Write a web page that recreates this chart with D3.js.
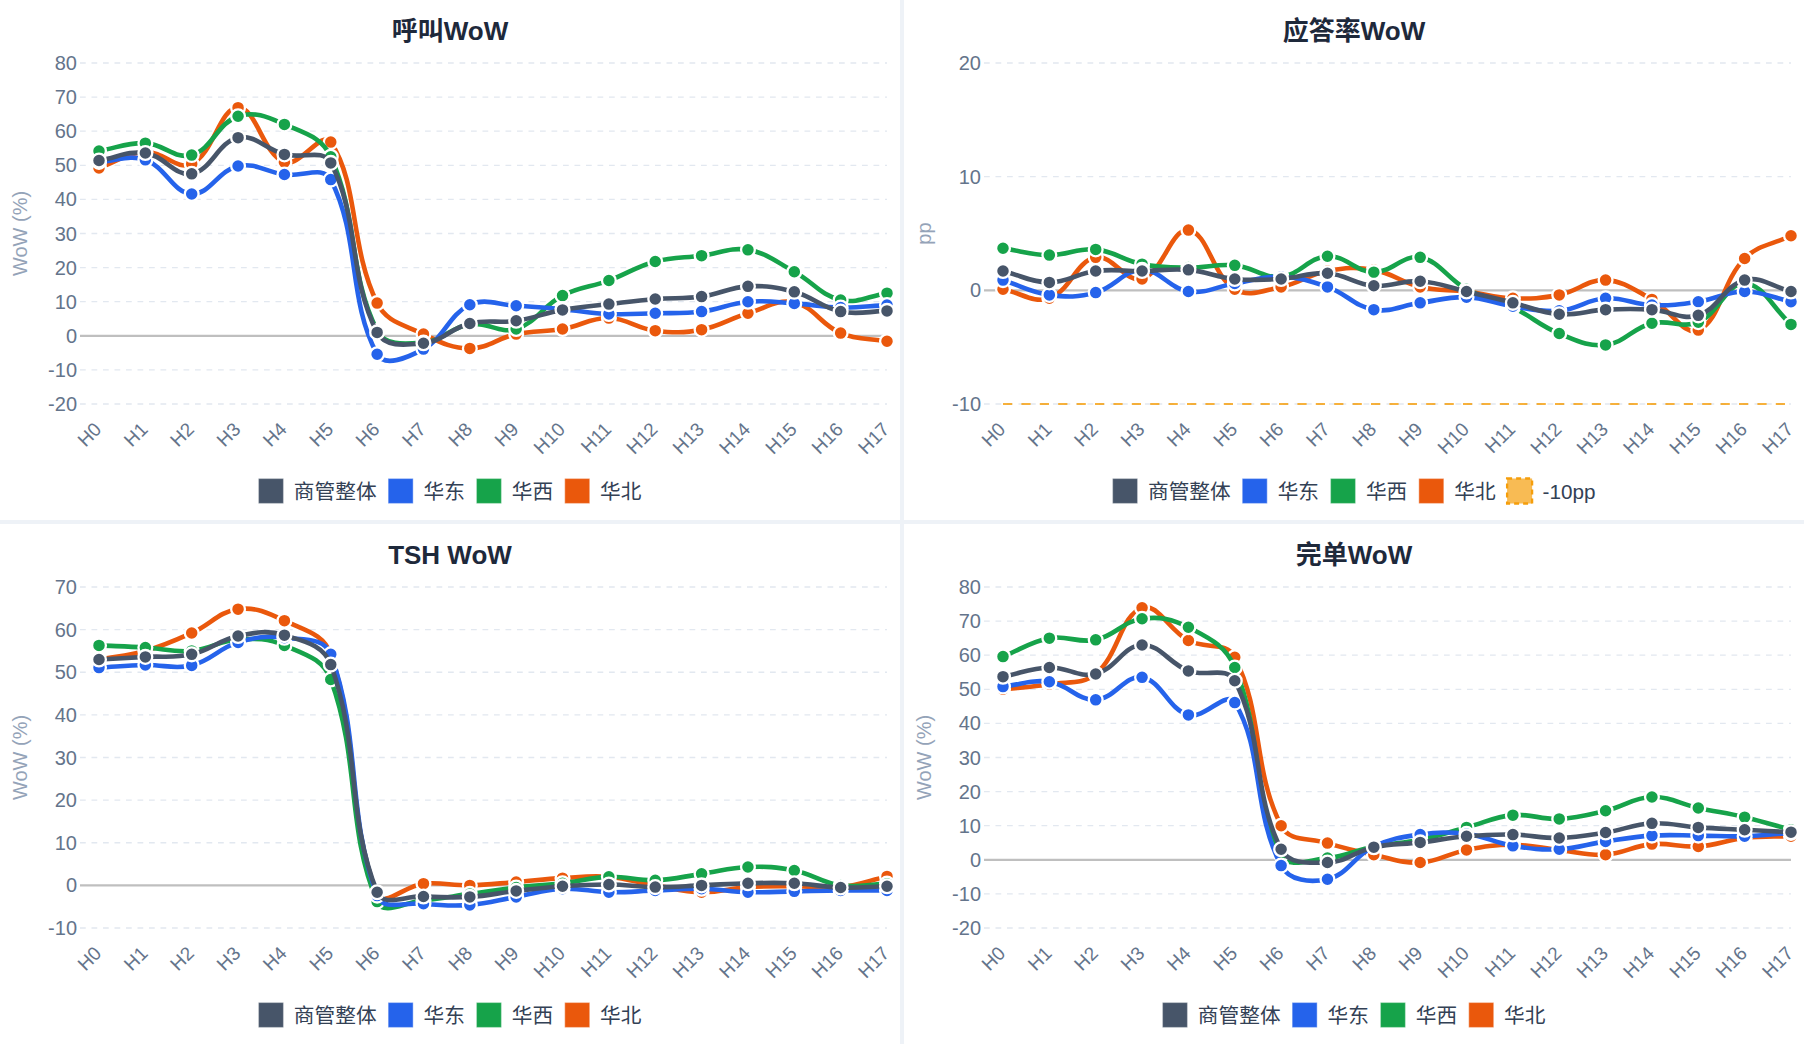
<!DOCTYPE html>
<html>
<head>
<meta charset="utf-8">
<script src="https://cdn.jsdelivr.net/npm/d3@7"></script>
<style>
  html, body { margin: 0; padding: 0; background: #eef2f7; }
  svg { display: block; font-family: "Liberation Sans", "Noto Sans CJK SC", sans-serif; }
</style>
</head>
<body>
<svg id="chart" width="1804" height="1044"></svg>
<script>
const hours = ["H0", "H1", "H2", "H3", "H4", "H5", "H6", "H7", "H8", "H9",
  "H10", "H11", "H12", "H13", "H14", "H15", "H16", "H17"];
const regions = ["商管整体", "华东", "华西", "华北"];
const regionColors = ["#475569", "#2563eb", "#16a34a", "#ea580c"];

// 呼叫WoW (%)
const callOverall = [51.4, 53.6, 47.5, 58.1, 53.2, 50.7, 1.0, -2.2, 3.6, 4.4, 7.6, 9.3, 10.8, 11.5, 14.5, 12.9, 7.1, 7.3];
const callEast = [51.0, 51.6, 41.6, 49.8, 47.3, 45.8, -5.4, -3.9, 9.1, 8.8, 7.8, 6.4, 6.6, 7.1, 10.0, 9.5, 8.3, 9.0];
const callWest = [54.2, 56.5, 53.0, 64.4, 62.0, 52.5, 1.5, -2.0, 3.4, 2.0, 11.8, 16.2, 21.8, 23.5, 25.2, 18.8, 10.5, 12.5];
const callNorth = [49.2, 53.9, 50.4, 66.9, 50.9, 56.8, 9.6, 0.5, -3.7, 0.5, 2.0, 5.2, 1.5, 1.8, 6.6, 9.8, 0.8, -1.6];
const callTicks = [-20, -10, 0, 10, 20, 30, 40, 50, 60, 70, 80];

// 应答率WoW (pp)
const ansOverall = [1.7, 0.7, 1.7, 1.7, 1.8, 1.0, 1.0, 1.5, 0.4, 0.8, -0.1, -1.1, -2.1, -1.7, -1.7, -2.2, 0.9, -0.1];
const ansEast = [0.9, -0.4, -0.2, 1.8, -0.1, 0.6, 1.2, 0.3, -1.7, -1.1, -0.6, -1.4, -1.8, -0.7, -1.3, -1.0, -0.1, -1.0];
const ansWest = [3.7, 3.1, 3.6, 2.3, 2.0, 2.2, 1.2, 3.0, 1.6, 2.9, 0.1, -1.5, -3.8, -4.8, -2.9, -2.8, 0.6, -3.0];
const ansNorth = [0.1, -0.7, 2.9, 1.0, 5.3, 0.1, 0.3, 1.7, 1.8, 0.3, -0.1, -0.7, -0.4, 0.9, -0.8, -3.5, 2.8, 4.8];
const ansTicks = [-10, 0, 10, 20];
const ansFloor = -10;

// TSH WoW (%)
const tshOverall = [53.0, 53.6, 54.2, 58.5, 58.7, 51.8, -1.6, -2.6, -2.7, -1.3, -0.2, 0.2, -0.4, 0.0, 0.5, 0.5, -0.5, -0.2];
const tshEast = [51.1, 51.7, 51.6, 57.0, 58.1, 54.2, -2.4, -4.3, -4.6, -2.7, -0.8, -1.6, -1.2, -0.8, -1.6, -1.4, -1.2, -1.2];
const tshWest = [56.3, 55.8, 55.0, 57.7, 56.3, 48.3, -3.8, -3.5, -2.0, -0.5, 0.5, 2.0, 1.2, 2.7, 4.3, 3.5, 0.0, 0.4];
const tshNorth = [53.0, 55.0, 59.2, 64.8, 62.1, 54.2, -2.0, 0.4, 0.0, 0.8, 1.7, 2.0, 0.0, -1.6, -0.4, -0.2, -0.4, 2.1];
const tshTicks = [-10, 0, 10, 20, 30, 40, 50, 60, 70];

// 完单WoW (%)
const doneOverall = [53.7, 56.4, 54.5, 63.0, 55.4, 52.5, 3.1, -0.8, 3.7, 5.1, 6.9, 7.4, 6.4, 8.0, 10.7, 9.5, 8.8, 8.1];
const doneEast = [50.8, 52.2, 46.9, 53.5, 42.5, 46.1, -1.7, -5.7, 3.9, 7.4, 7.6, 4.1, 3.1, 5.4, 7.1, 7.1, 6.9, 7.9];
const doneWest = [59.6, 65.0, 64.5, 70.7, 68.2, 56.4, 1.5, 0.5, 3.9, 5.9, 9.5, 13.1, 12.0, 14.4, 18.4, 15.2, 12.5, 8.8];
const doneNorth = [50.0, 51.5, 54.5, 73.9, 64.3, 59.4, 10.0, 4.9, 1.5, -0.8, 2.9, 4.4, 2.9, 1.5, 4.6, 3.9, 6.4, 6.9];
const doneTicks = [-20, -10, 0, 10, 20, 30, 40, 50, 60, 70, 80];

const panels = [
  { title: "呼叫WoW", axisTitle: "WoW (%)", ticks: callTicks, series: [callOverall, callEast, callWest, callNorth] },
  { title: "应答率WoW", axisTitle: "pp", ticks: ansTicks, series: [ansOverall, ansEast, ansWest, ansNorth], floor: ansFloor },
  { title: "TSH WoW", axisTitle: "WoW (%)", ticks: tshTicks, series: [tshOverall, tshEast, tshWest, tshNorth] },
  { title: "完单WoW", axisTitle: "WoW (%)", ticks: doneTicks, series: [doneOverall, doneEast, doneWest, doneNorth] },
];

const panelW = 900, panelH = 520, gap = 4;
const area = { left: 99, right: 887, top: 63, bottom: 404 };
const floorColor = "#f59e0b";

const svg = d3.select("#chart");

// smooth line like a tension spline, control points kept inside the plot
function splinePath(pts, t) {
  const cx = (v) => Math.max(area.left, Math.min(area.right, v));
  const cy = (v) => Math.max(area.top, Math.min(area.bottom, v));
  const cps = pts.map((p, i) => {
    const prev = pts[i - 1] || p;
    const next = pts[i + 1] || p;
    const d01 = Math.hypot(p[0] - prev[0], p[1] - prev[1]);
    const d12 = Math.hypot(next[0] - p[0], next[1] - p[1]);
    let s01 = d01 / (d01 + d12);
    let s12 = d12 / (d01 + d12);
    if (isNaN(s01)) s01 = 0;
    if (isNaN(s12)) s12 = 0;
    const dx = next[0] - prev[0], dy = next[1] - prev[1];
    return {
      c1: [cx(p[0] - t * s01 * dx), cy(p[1] - t * s01 * dy)],
      c2: [cx(p[0] + t * s12 * dx), cy(p[1] + t * s12 * dy)],
    };
  });
  let d = `M${pts[0][0]},${pts[0][1]}`;
  for (let i = 1; i < pts.length; i++) {
    d += `C${cps[i - 1].c2[0]},${cps[i - 1].c2[1]},${cps[i].c1[0]},${cps[i].c1[1]},${pts[i][0]},${pts[i][1]}`;
  }
  return d;
}

panels.forEach((panel, index) => renderPanel(panel, index));

function renderPanel(panel, index) {
  const px = (index % 2) * (panelW + gap);
  const py = Math.floor(index / 2) * (panelH + gap);
  const g = svg.append("g").attr("transform", `translate(${px},${py})`);

  g.append("rect")
    .attr("width", panelW)
    .attr("height", panelH)
    .attr("fill", "#ffffff");

  const x = d3.scalePoint().domain(hours).range([area.left, area.right]);
  const y = d3.scaleLinear()
    .domain(d3.extent(panel.ticks))
    .range([area.bottom, area.top]);

  // title
  g.append("text")
    .attr("x", panelW / 2)
    .attr("y", 31)
    .attr("text-anchor", "middle")
    .attr("dominant-baseline", "central")
    .attr("font-size", 26)
    .attr("font-weight", "bold")
    .attr("fill", "#1e293b")
    .text(panel.title);

  // grid + y ticks
  panel.ticks.forEach((t) => {
    const isZero = t === 0;
    g.append("line")
      .attr("x1", area.left - 19)
      .attr("x2", area.right)
      .attr("y1", y(t))
      .attr("y2", y(t))
      .attr("stroke", isZero ? "#bfbfbf" : "#e2e8f0")
      .attr("stroke-width", isZero ? 2.3 : 1.3)
      .attr("stroke-dasharray", isZero ? null : "5.75,5.75");

    g.append("text")
      .attr("x", area.left - 22)
      .attr("y", y(t))
      .attr("text-anchor", "end")
      .attr("dominant-baseline", "central")
      .attr("font-size", 20)
      .attr("fill", "#64748b")
      .text(t);
  });

  // y axis title
  g.append("text")
    .attr("transform", `translate(20,${(area.top + area.bottom) / 2}) rotate(-90)`)
    .attr("text-anchor", "middle")
    .attr("dominant-baseline", "central")
    .attr("font-size", 20)
    .attr("fill", "#94a3b8")
    .text(panel.axisTitle);

  // x tick labels
  hours.forEach((h) => {
    g.append("text")
      .attr("transform", `translate(${x(h) - 1},${area.bottom + 22}) rotate(-45)`)
      .attr("text-anchor", "end")
      .attr("dominant-baseline", "central")
      .attr("font-size", 19)
      .attr("fill", "#64748b")
      .text(h);
  });

  // reference line (drawn under the regions)
  if (panel.floor !== undefined) {
    g.append("path")
      .attr("d", d3.line()([[x(hours[0]), y(panel.floor)], [x(hours[hours.length - 1]), y(panel.floor)]]))
      .attr("fill", "none")
      .attr("stroke", floorColor)
      .attr("stroke-opacity", 0.8)
      .attr("stroke-width", 1.8)
      .attr("stroke-dasharray", "9.2,9.2");
  }

  // series: last drawn first so the overall line sits on top
  for (let s = panel.series.length - 1; s >= 0; s--) {
    const values = panel.series[s];
    const pts = values.map((v, i) => [x(hours[i]), y(v)]);
    const sg = g.append("g");

    sg.append("path")
      .attr("d", splinePath(pts, 0.4))
      .attr("fill", "none")
      .attr("stroke", regionColors[s])
      .attr("stroke-width", 4.6)
      .attr("stroke-linejoin", "round")
      .attr("stroke-linecap", "round");

    sg.selectAll("circle")
      .data(values)
      .join("circle")
      .attr("cx", (d, i) => x(hours[i]))
      .attr("cy", (d) => y(d))
      .attr("r", 6.9)
      .attr("fill", regionColors[s])
      .attr("stroke", "#ffffff")
      .attr("stroke-width", 2.3);
  }

  renderLegend(g, panel);
}

function renderLegend(g, panel) {
  const items = regions.map((name, i) => ({ name, color: regionColors[i], dashed: false }));
  if (panel.floor !== undefined) {
    items.push({ name: `${panel.floor}pp`, color: floorColor, dashed: true });
  }

  const boxSize = 25;
  const textGap = 10.4;
  const itemGap = 11.5;
  const legendY = 491;
  const legend = g.append("g");

  let cursor = 0;
  items.forEach((item) => {
    const ig = legend.append("g").attr("transform", `translate(${cursor},0)`);
    const box = ig.append("rect")
      .attr("x", 0)
      .attr("y", legendY - boxSize / 2)
      .attr("width", boxSize)
      .attr("height", boxSize);

    if (item.dashed) {
      box.attr("fill", item.color)
        .attr("fill-opacity", 0.7)
        .attr("stroke", item.color)
        .attr("stroke-width", 2.3)
        .attr("stroke-dasharray", "5,4");
    } else {
      box.attr("fill", item.color)
        .attr("stroke", "#ffffff")
        .attr("stroke-opacity", 0.35)
        .attr("stroke-width", 1.2);
    }

    const label = ig.append("text")
      .attr("x", boxSize + textGap)
      .attr("y", legendY)
      .attr("dominant-baseline", "central")
      .attr("font-size", 20.7)
      .attr("fill", "#334155")
      .text(item.name);

    cursor += boxSize + textGap + label.node().getComputedTextLength() + itemGap;
  });

  const total = cursor - itemGap;
  legend.attr("transform", `translate(${(panelW - total) / 2},0)`);
}
</script>
</body>
</html>
